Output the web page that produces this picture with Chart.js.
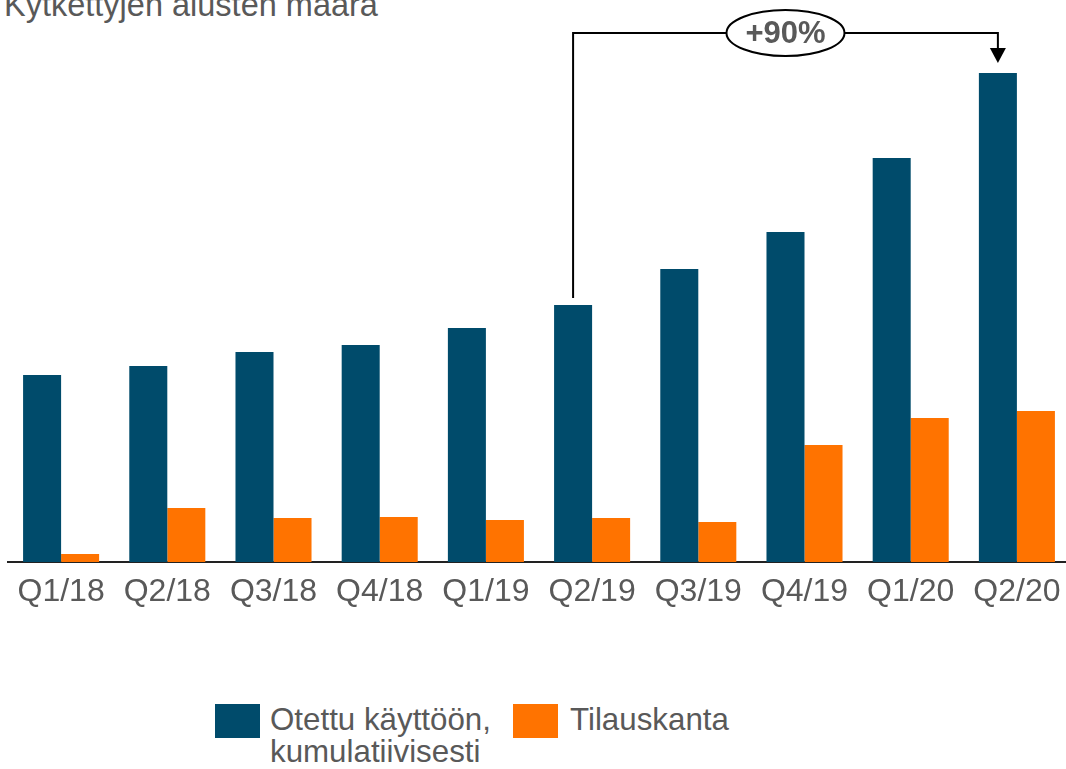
<!DOCTYPE html>
<html>
<head>
<meta charset="utf-8">
<script src="https://cdn.jsdelivr.net/npm/chart.js@4.4.1/dist/chart.umd.min.js"></script>
<style>
  html, body { margin: 0; padding: 0; background: #fff; overflow: hidden; }
  body { width: 1066px; height: 769px; position: relative; font-family: "Liberation Sans", Arial, sans-serif; color: #595959; }
  #title { position: absolute; left: 4px; top: -11px; font-size: 32.5px; line-height: 32px; white-space: nowrap; }
  #chartBox { position: absolute; left: 0; top: 0; width: 1071px; height: 620px; }
  .legBox { position: absolute; top: 704px; width: 45px; height: 34px; }
  .legText { position: absolute; top: 704px; font-size: 31.3px; line-height: 32px; white-space: nowrap; }
</style>
</head>
<body>
<div id="title">Kytkettyjen alusten määrä</div>
<div id="chartBox"><canvas id="barChart"></canvas></div>
<div class="legBox" style="left:215px; background:#004b6b;"></div>
<div class="legText" style="left:270px;">Otettu käyttöön,<br>kumulatiivisesti</div>
<div class="legBox" style="left:513px; background:#ff7300;"></div>
<div class="legText" style="left:570px;">Tilauskanta</div>
<script>
// values (relative bar heights, no axis given)
const arrQuarters = ["Q1/18", "Q2/18", "Q3/18", "Q4/18", "Q1/19", "Q2/19", "Q3/19", "Q4/19", "Q1/20", "Q2/20"];
const arrOtettu = [187, 196, 210, 217, 234, 257, 293, 330, 404, 489];
const arrTilauskanta = [8, 54, 44, 45, 42, 44, 40, 117, 144, 151];
const yMax = 562;

const colBlue = "#004b6b";
const colOrange = "#ff7300";
const colText = "#595959";

// arrow from Q2/19 to Q2/20 with growth label
const growthArrow = {
  id: "growthArrow",
  afterDatasetsDraw(chart) {
    const meta = chart.getDatasetMeta(0);
    const fromBar = meta.data[5];
    const toBar = meta.data[9];
    const lineY = 33;
    const ctx = chart.ctx;
    ctx.save();
    ctx.strokeStyle = "#000";
    ctx.fillStyle = "#000";
    ctx.lineWidth = 2;
    ctx.beginPath();
    ctx.moveTo(fromBar.x, fromBar.y - 7);
    ctx.lineTo(fromBar.x, lineY);
    ctx.lineTo(toBar.x, lineY);
    ctx.lineTo(toBar.x, toBar.y - 20);
    ctx.stroke();
    ctx.beginPath();
    ctx.moveTo(toBar.x - 8, toBar.y - 25);
    ctx.lineTo(toBar.x + 8, toBar.y - 25);
    ctx.lineTo(toBar.x, toBar.y - 10);
    ctx.closePath();
    ctx.fill();

    const midX = (fromBar.x + toBar.x) / 2;
    ctx.beginPath();
    ctx.ellipse(midX, lineY, 59, 23, 0, 0, Math.PI * 2);
    ctx.fillStyle = "#fff";
    ctx.fill();
    ctx.stroke();

    const pct = Math.round((arrOtettu[9] / arrOtettu[5] - 1) * 100);
    ctx.fillStyle = colText;
    ctx.font = "bold 31px 'Liberation Sans', Arial, sans-serif";
    ctx.textAlign = "center";
    ctx.textBaseline = "middle";
    ctx.fillText("+" + pct + "%", midX, lineY + 1);
    ctx.restore();
  },
};

new Chart(document.getElementById("barChart"), {
  type: "bar",
  plugins: [growthArrow],
  data: {
    labels: arrQuarters,
    datasets: [
      {
        label: "Otettu käyttöön, kumulatiivisesti",
        data: arrOtettu,
        backgroundColor: colBlue,
        barPercentage: 1,
        categoryPercentage: 0.716,
      },
      {
        label: "Tilauskanta",
        data: arrTilauskanta,
        backgroundColor: colOrange,
        barPercentage: 1,
        categoryPercentage: 0.716,
      },
    ],
  },
  options: {
    responsive: true,
    maintainAspectRatio: false,
    animation: false,
    layout: { padding: { left: 8, right: 1, top: 0, bottom: 0 } },
    scales: {
      x: {
        grid: { display: false },
        border: { display: true, color: "#222", width: 2 },
        ticks: {
          color: colText,
          font: { family: "'Liberation Sans', Arial, sans-serif", size: 32 },
          padding: 3,
          maxRotation: 0,
          autoSkip: false,
        },
        afterFit: function (scale) {
          scale.height = 58;
        },
      },
      y: {
        display: false,
        min: 0,
        max: yMax,
      },
    },
    plugins: {
      legend: { display: false },
      tooltip: { enabled: false },
    },
  },
});
</script>
</body>
</html>
